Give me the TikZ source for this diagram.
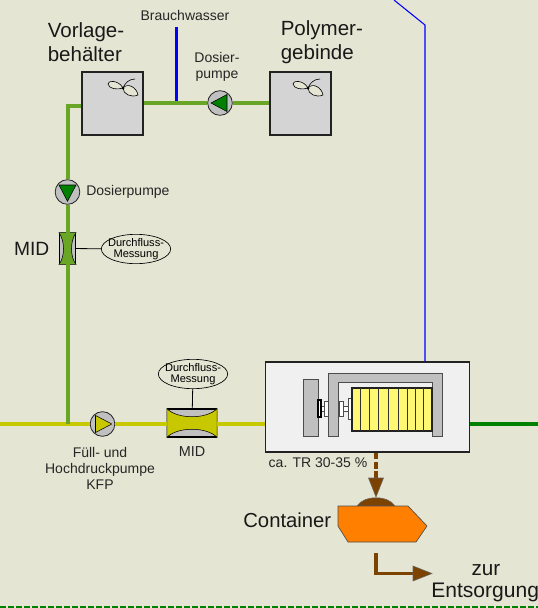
\documentclass[tikz,border=0pt]{standalone}
\usepackage{fontspec}
\setmainfont{Liberation Sans}
\usepackage{xcolor}
\usetikzlibrary{positioning,arrows.meta,shapes.geometric,calc}
\definecolor{paper}{HTML}{E5E5D3}
\definecolor{polygreen}{HTML}{6AA626}
\definecolor{sludge}{HTML}{C8C800}
\definecolor{filtrate}{HTML}{008000}
\definecolor{cakebrown}{HTML}{7B4200}
\definecolor{outline}{HTML}{222222}
\definecolor{steel}{HTML}{C0C0C0}
\definecolor{contorange}{HTML}{FF8000}
\tikzset{
  tank/.style={draw=outline,line width=1.2pt,fill=black!17,minimum width=45.5pt,minimum height=47.5pt,inner sep=0pt},
  pumpnode/.style={circle,draw=outline,line width=.6pt,fill=steel,minimum size=18.5pt,inner sep=0pt},
  sensor/.style={ellipse,draw=black,line width=.5pt,minimum width=52pt,minimum height=22pt,inner xsep=-6pt,inner ysep=-1pt,align=center,font=\fontsize{8.3}{7.8}\selectfont},
  midbox/.style={draw=black,line width=.8pt,fill=steel,inner sep=0pt},
  label/.style={inner sep=0pt,align=center,font=\fontsize{10.5}{12}\selectfont,text=black!85},
  biglabel/.style={inner sep=0pt,align=left,font=\fontsize{15.4}{18}\selectfont,text=black!90},
  polyline/.style={polygreen,line width=3pt},
  part/.style={draw=black!70,line width=.7pt,fill=steel},
  whitepart/.style={draw=black!70,line width=.7pt,fill=white},
  rotor/.pic={
    \draw[fill=paper,line width=.45pt] (0,0) .. controls (-5,-9) and (-16,-7) .. (-15,-4) .. controls (-14,1) and (-6,2) .. (0,0);
    \draw[fill=paper,line width=.45pt] (0,0) .. controls (5,-6) and (14,0) .. (15,7) .. controls (8,10) and (0,6) .. (0,0);
    \draw[line width=.45pt] (0,0) .. controls (2,-5) and (6,-9) .. (12,-9);
    \fill (0,0) circle (1.5);
  },
}
\begin{document}
\begin{tikzpicture}[x=.75pt,y=-.75pt]
\useasboundingbox (0,0) rectangle (538,608);
\fill[paper] (0,0) rectangle (538,608);
\draw[filtrate,line width=1.5pt,dash pattern=on 4.5pt off 1.5pt] (0,607) -- (538,607);
% Behaelter oben
\node[tank] (vorlage) at (112.5,103.5) {};
\node[tank] (polymer) at (300.5,103.5) {};
\pic at (123,88) {rotor};
\pic at (308,88) {rotor};
\node[biglabel,anchor=west] (vorlagetxt) at (47.5,42.5) {Vorlage-\\behälter};
\node[biglabel,anchor=west] (polymertxt) at (280.5,42.5) {Polymer-\\gebinde};
\node[label] (wasser) at (185,15) {Brauchwasser};
\node[label] (dosier) at (217,67) {Dosier-\\pumpe};
\coordinate (wasserin) at (176.5,27);
\coordinate (wasserout) at (176.5,101.5);
\draw[blue,line width=2.7pt] (wasserin) -- (wasserout);
% Pumpen
\node[pumpnode] (dp1) at (220,103) {};
\node[pumpnode] (dp2) at (67.5,192) {};
\node[label,anchor=west] (dp2txt) at (86,191.5) {Dosierpumpe};
\node[pumpnode] (kfp) at (102.5,424) {};
\node[label] (kfptxt) at (100,468) {Füll- und\\Hochdruckpumpe\\KFP};
% Messung
\node[midbox,minimum width=12pt,minimum height=23pt] (mid1) at (67.5,248.5) {};
\node[biglabel,left=2.5mm of mid1,font=\fontsize{14.4}{16}\selectfont] (mid1txt) {MID};
\node[sensor] (dfm1) at (136,249) {Durchfluss-\\Messung};
\node[midbox,minimum width=37pt,minimum height=21pt] (mid2) at (192,423) {};
\node[label,font=\fontsize{10.8}{12}\selectfont] (mid2txt) at (192,452) {MID};
\node[sensor] (dfm2) at (193,374) {Durchfluss-\\Messung};
\fill[sludge,draw=black,line width=.4pt] (mid2.north west) .. controls (177,419.5) and (207,419.5) .. (mid2.north east) -- (mid2.south east) .. controls (207,426.5) and (177,426.5) .. (mid2.south west) -- cycle;
\fill[polygreen,draw=black,line width=.4pt] (mid1.north west) .. controls (65,241) and (65,257) .. (mid1.south west) -- (mid1.south east) .. controls (70,257) and (70,241) .. (mid1.north east) -- cycle;
\draw[line width=.6pt] (mid1) -- (dfm1);
\draw[line width=.6pt] (mid2) -- (dfm2);
% Zentrifuge
\node[draw=outline,line width=1.3pt,fill=black!6,minimum width=153pt,minimum height=67pt,inner sep=0pt] (presse) at (367.5,407) {};
\draw[part] (303,379) rectangle (318,436);
\draw[part] (328,436) -- (328,373) -- (442,373) -- (442,436) -- (432,436) -- (432,382) -- (338,382) -- (338,436) -- cycle;
\draw[whitepart] (321,406) rectangle (324,411);
\draw[draw=black,fill=white,line width=.8pt] (318,400) rectangle (321,417);
\draw[whitepart] (324,401) rectangle (328,416);
\draw[whitepart] (343,406) rectangle (348,411);
\draw[whitepart] (339,401) rectangle (343,416);
\draw[whitepart] (348,398) rectangle (352,419);
\draw[draw=outline,line width=.8pt,fill=yellow!55] (352,388) rectangle (432,431);
\foreach \px in {360,369,378,388,398,407,415,423}
  \draw[line width=.6pt,black!80] (\px,388) -- (\px,431);
\node[label] (trtxt) at (318,463) {ca. TR 30-35 \%};
% Leitungen
\coordinate (zulauf) at (0,424);
\coordinate (abgang) at (538,424);
\coordinate (knick) at (67.5,424);
\draw[sludge,line width=3pt] (zulauf) -- (kfp);
\draw[sludge,line width=3pt] (kfp) -- (mid2.west |- kfp);
\draw[sludge,line width=3pt] (mid2.east |- kfp) -- (presse.west |- kfp);
\draw[filtrate,line width=2.6pt] (presse.east |- abgang) -- (abgang);
\draw[polyline] (vorlage.east |- dp1) -- (dp1);
\draw[polyline] (dp1) -- (polymer.west |- dp1);
\draw[polyline] ([yshift=-2pt]vorlage.west) -| (dp2);
\draw[polyline] (dp2) -- (mid1);
\draw[polyline] (mid1) -- (knick);
\fill[filtrate,draw=black,line width=.4pt] ([xshift=-6.75pt]dp1.center) -- ([xshift=5.25pt,yshift=6.4pt]dp1.center) -- ([xshift=5.25pt,yshift=-6.4pt]dp1.center) -- cycle;
\fill[filtrate,draw=black,line width=.4pt] ([yshift=-7pt]dp2.center) -- ([xshift=-6.4pt,yshift=5.25pt]dp2.center) -- ([xshift=6.4pt,yshift=5.25pt]dp2.center) -- cycle;
\fill[sludge,draw=black,line width=.4pt] ([xshift=7pt]kfp.center) -- ([xshift=-5.25pt,yshift=6.4pt]kfp.center) -- ([xshift=-5.25pt,yshift=-6.4pt]kfp.center) -- cycle;
\coordinate (abluft) at (425,25);
\coordinate (abluftend) at (394,0);
\draw[blue,line width=.8pt] (presse.north -| abluft) -- (abluft) -- (abluftend);
% Container
\fill[cakebrown,draw=black!60,line width=.4pt] (357,506) .. controls (364,495) and (388,495) .. (395,506) -- cycle;
\path[fill=contorange,draw=black!70,line width=.5pt] (338,506) -- (408,506) -- (427,526) -- (416,542) -- (348,542) -- (338,526) -- cycle;
\node[biglabel,anchor=east,font=\fontsize{15.2}{16}\selectfont] (conttxt) at (331.5,520) {Container};
\coordinate (austrag) at (376,452);
\coordinate (spitze) at (376,478);
\draw[cakebrown,line width=2.4pt,dash pattern=on 5pt off 2pt] (presse.south -| austrag) -- (spitze);
\fill[cakebrown,draw=black!60,line width=.4pt] (368.5,478) -- (383.5,478) -- (376,497) -- cycle;
\coordinate (entsorg) at (376,553);
\coordinate (entspitze) at (413,573.5);
\draw[cakebrown,line width=2.7pt] (entsorg) |- (entspitze);
\fill[cakebrown,draw=black!60,line width=.4pt] (413,566) -- (413,581) -- (432,573.5) -- cycle;
\node[biglabel,anchor=center,font=\fontsize{15.5}{16}\selectfont] (zur) at (486,570) {zur};
\node[biglabel,anchor=west,font=\fontsize{15.8}{16}\selectfont] (entsorgung) at (431,592) {Entsorgung};
\end{tikzpicture}
\end{document}
